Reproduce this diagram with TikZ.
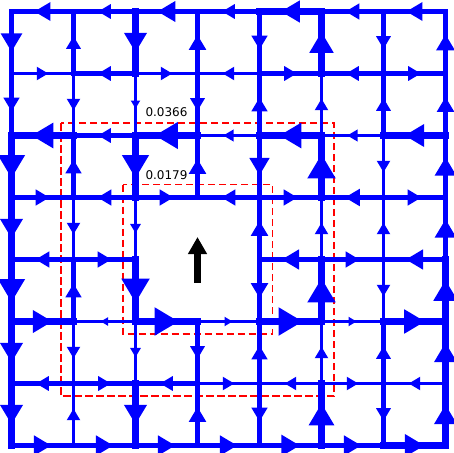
\documentclass[tikz,border=0pt]{standalone}
\usepackage{fontspec}
\newfontfamily\dejavu{DejaVu Sans}
\usetikzlibrary{decorations.markings,arrows.meta}
\definecolor{fluxblue}{RGB}{0,0,255}
\definecolor{boxred}{RGB}{255,0,0}
\tikzset{
  flow/.style={draw=fluxblue, line width={#1/2.7}, line cap=rect,
    postaction={decorate},
    decoration={markings, mark=at position 0.5 with {\fill[fluxblue] ({0.57*#1pt},0pt) -- ({-0.57*#1pt},{0.68*#1pt}) -- ({-0.57*#1pt},{-0.68*#1pt}) -- cycle;}}},
  boxdash/.style={draw=boxred, line width=1.1pt, dash pattern=on 7.5pt off 3.5pt},
  lab/.style={font=\dejavu\fontsize{12}{14}\selectfont, inner sep=0pt, text=black},
}
\begin{document}
\begin{tikzpicture}[x=1pt,y=-1pt]
\useasboundingbox (0,0) rectangle (454,452);
\foreach \i in {0,...,7}{\foreach \j in {0,...,7}{\coordinate (g\i\j) at ({11.5+62*\i},{11.5+62*\j});}}
% red dashed boxes
\coordinate (ro1) at (61,123); \coordinate (ro2) at (334,396);
\coordinate (ri1) at (123,184.5); \coordinate (ri2) at (272.5,334);
\draw[boxdash] (ro1) rectangle (ro2);
\draw[boxdash] (ri1) rectangle (ri2);
% horizontal edges
\foreach \a/\b/\w in {
 g10/g00/14, g20/g10/11, g30/g20/15.5, g40/g30/11, g50/g40/16.5, g60/g50/12, g70/g60/14,
 g01/g11/10, g21/g11/11, g21/g31/10, g41/g31/10, g41/g51/11, g61/g51/11, g61/g71/11,
 g12/g02/19, g22/g12/11, g32/g22/20, g42/g32/9, g52/g42/19, g62/g52/9, g72/g62/17,
 g03/g13/12, g23/g13/12, g23/g33/12, g43/g33/12, g43/g53/12, g63/g53/13, g63/g73/12,
 g14/g04/12, g14/g24/12, g54/g44/15, g54/g64/12, g74/g64/15,
 g05/g15/17, g25/g15/6.5, g25/g35/21, g35/g45/7, g45/g55/21, g55/g65/7, g65/g75/18,
 g16/g06/11, g16/g26/11, g36/g26/11, g36/g46/10, g56/g46/10, g56/g66/10, g76/g66/10,
 g07/g17/15, g17/g27/15, g27/g37/15, g37/g47/15, g47/g57/16, g57/g67/15, g67/g77/17}
 {\draw[flow=\w] (\a) -- (\b);}
% vertical edges
\foreach \a/\b/\w in {
 g00/g01/16, g01/g02/12, g02/g03/20, g03/g04/17, g04/g05/20, g05/g06/17, g06/g07/17,
 g11/g10/11, g11/g12/10, g13/g12/12, g13/g14/10, g15/g14/12, g15/g16/10, g17/g16/10,
 g20/g21/17, g21/g22/7, g22/g23/20, g23/g24/8, g24/g25/21, g25/g26/8, g26/g27/17,
 g31/g30/13, g31/g32/11, g33/g32/13, g35/g36/11, g37/g36/13,
 g40/g41/12, g42/g41/12, g42/g43/15, g44/g43/13, g44/g45/13, g46/g45/12, g46/g47/12,
 g51/g50/18, g52/g51/10, g53/g52/21, g54/g53/10, g55/g54/21, g56/g55/10, g57/g56/19,
 g60/g61/11, g62/g61/11, g62/g63/10, g64/g63/10, g64/g65/10, g66/g65/11, g66/g67/11,
 g71/g70/14, g72/g71/13, g73/g72/16, g74/g73/16, g75/g74/18, g76/g75/17, g77/g76/17}
 {\draw[flow=\w] (\a) -- (\b);}
% black arrow
\coordinate (bs) at (197.5,282.5); \coordinate (bt) at (197.5,237);
\draw[black, line width=7pt, -{Triangle[width=18pt,length=17pt]}] (bs) -- (bt);
% labels
\node[lab] (la) at (166.5,112.3) {0.0366};
\node[lab] (lb) at (166.5,174.8) {0.0179};
\end{tikzpicture}
\end{document}
